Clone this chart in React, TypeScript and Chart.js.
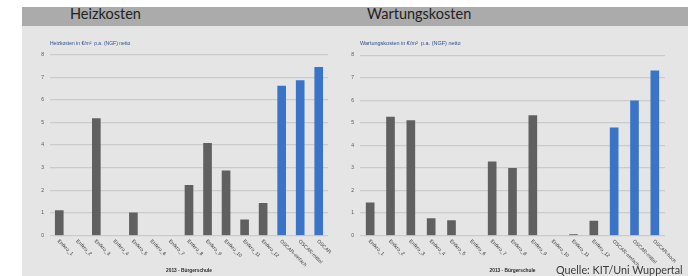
import React, { useEffect, useRef } from 'react';
import { Chart, registerables } from 'chart.js';

Chart.register(...registerables);

// ---- Data ----
const heizCategories = [
  'Enfkro_1', 'Enfkro_2', 'Enfkro_3', 'Enfkro_4', 'Enfkro_5', 'Enfkro_6', 'Enfkro_7',
  'Enfkro_8', 'Enfkro_9', 'Enfkro_10', 'Enfkro_11', 'Enfkro_12',
  'OSCAR-einfach', 'OSCAR-mittel', 'OSCAR',
];
const heizValues = [1.1, null, 5.17, null, 1.0, null, null, 2.22, 4.07, 2.86, 0.69, 1.42, 6.6, 6.85, 7.43];

const wartCategories = [
  'Enfkro_1', 'Enfkro_2', 'Enfkro_3', 'Enfkro_4', 'Enfkro_5', 'Enfkro_6', 'Enfkro_7',
  'Enfkro_8', 'Enfkro_9', 'Enfkro_10', 'Enfkro_11', 'Enfkro_12',
  'OSCAR-einfach', 'OSCAR-mittel', 'OSCAR-hoch',
];
const wartValues = [1.45, 5.25, 5.1, 0.75, 0.66, null, 3.27, 2.98, 5.32, null, 0.04, 0.64, 4.78, 5.97, 7.3];

const yTickValues = [0, 1, 2, 3, 4, 5, 6, 7, 8];

const heizTitle = 'Heizkosten';
const wartTitle = 'Wartungskosten';
const heizSubtitle = 'Heizkosten in €/m²  p.a. (NGF) netto';
const wartSubtitle = 'Wartungskosten in €/m²  p.a. (NGF) netto';
const xAxisTitle = '2013 - Bürgerschule';
const sourceText = 'Quelle: KIT/Uni Wuppertal';

// ---- Styles ----
const GRAY = '#606060';
const BLUE = '#3b74c6';
const FONT = '"Liberation Sans", Arial, sans-serif';

const xLabelPlugin = {
  id: 'rotatedXLabels',
  afterDraw(chart: any) {
    const xs = chart.scales.x;
    const ctx = chart.ctx;
    const labels: string[] = chart.data.labels;
    ctx.save();
    ctx.font = `5px ${FONT}`;
    ctx.fillStyle = '#3a3a3a';
    ctx.textAlign = 'left';
    ctx.textBaseline = 'middle';
    labels.forEach((lab, i) => {
      const x = xs.getPixelForValue(i);
      const y = chart.chartArea.bottom + 5;
      ctx.save();
      ctx.translate(x - 1, y);
      ctx.rotate(Math.PI / 4);
      ctx.fillText(lab, 0, 0);
      ctx.restore();
    });
    ctx.restore();
  },
};

type PanelProps = {
  left: number;
  width: number;
  categories: string[];
  values: (number | null)[];
  subtitle: string;
  yWidth: number;
  rightPad: number;
  subtitleSize: number;
};

function BarPanel({ left, width, categories, values, subtitle, yWidth, rightPad, subtitleSize }: PanelProps) {
  const ref = useRef<HTMLCanvasElement | null>(null);
  const height = 250;
  useEffect(() => {
    if (!ref.current) return;
    const colors = categories.map((c) => (c.startsWith('OSCAR') ? BLUE : GRAY));
    const chart = new Chart(ref.current, {
      type: 'bar',
      data: {
        labels: categories,
        datasets: [
          {
            data: values,
            backgroundColor: colors,
            borderWidth: 0,
            barThickness: 8,
          },
        ],
      },
      plugins: [xLabelPlugin],
      options: {
        responsive: false,
        animation: false,
        layout: { padding: { left: 0, right: rightPad, top: 0, bottom: 0 } },
        plugins: {
          legend: { display: false },
          tooltip: { enabled: false },
          title: {
            display: true,
            text: subtitle,
            align: 'start',
            fullSize: false,
            color: '#2d4f8c',
            font: { family: FONT, size: subtitleSize, weight: 'normal' },
            padding: { top: 14.5, bottom: 8 },
          },
        },
        scales: {
          x: {
            grid: { display: false },
            border: { display: false },
            ticks: { display: false },
            title: {
              display: true,
              text: xAxisTitle,
              color: '#2a2a2a',
              font: { family: FONT, size: 4.8, weight: 'bold' },
              padding: { top: 0, bottom: 2 },
            },
            afterFit: (s: any) => {
              s.height = 40.5;
            },
          },
          y: {
            min: 0,
            max: 8,
            afterBuildTicks: (s: any) => {
              s.ticks = yTickValues.map((v) => ({ value: v }));
            },
            ticks: { padding: 6, color: '#555', font: { family: FONT, size: 5 } },
            grid: { color: '#cbcbcb', lineWidth: 1.2, drawTicks: false },
            border: { display: false },
            afterFit: (s: any) => {
              s.width = yWidth;
            },
          },
        },
      },
    } as any);
    return () => chart.destroy();
  }, []);
  return (
    <canvas
      ref={ref}
      width={width}
      height={height}
      style={{ position: 'absolute', left, top: 26, width, height }}
    />
  );
}

export default function App() {
  return (
    <div
      style={{
        position: 'fixed',
        left: 0,
        top: 0,
        width: 688,
        height: 276,
        background: '#ffffff',
        overflow: 'hidden',
      }}
    >
      <div style={{ position: 'absolute', left: 22, top: 7, right: 0, bottom: 0, background: '#e5e5e5' }} />
      <div style={{ position: 'absolute', left: 22, top: 7, right: 0, height: 19, background: '#ababab' }} />
      <div
        style={{
          position: 'absolute',
          left: 70,
          top: 5,
          fontFamily: 'Lato, sans-serif',
          fontSize: 14.5,
          color: '#222',
          whiteSpace: 'nowrap',
        }}
      >
        {heizTitle}
      </div>
      <div
        style={{
          position: 'absolute',
          left: 367,
          top: 5,
          fontFamily: 'Lato, sans-serif',
          fontSize: 14.5,
          color: '#222',
          whiteSpace: 'nowrap',
        }}
      >
        {wartTitle}
      </div>
      <BarPanel
        left={22}
        width={318}
        categories={heizCategories}
        values={heizValues}
        subtitle={heizSubtitle}
        yWidth={28}
        rightPad={12}
        subtitleSize={5}
      />
      <BarPanel
        left={340}
        width={348}
        categories={wartCategories}
        values={wartValues}
        subtitle={wartSubtitle}
        yWidth={20}
        rightPad={23}
        subtitleSize={5.5}
      />
      <div
        style={{
          position: 'absolute',
          left: 556,
          top: 263,
          fontFamily: 'Lato, sans-serif',
          fontSize: 10.8,
          color: '#3a3a3a',
          whiteSpace: 'nowrap',
        }}
      >
        {sourceText}
      </div>
    </div>
  );
}
